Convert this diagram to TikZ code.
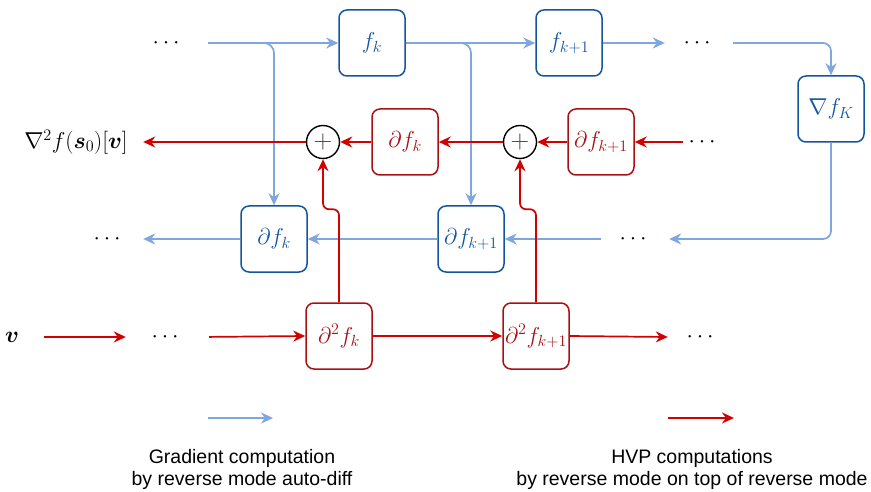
\RequirePackage{fix-cm}
\documentclass[tikz,border=0pt]{standalone}
\usepackage{tikz}
\usetikzlibrary{arrows.meta}
\usepackage{amsmath,amssymb}
\usepackage{bm}
\usepackage{fontspec}
\newfontfamily\legendfont{Liberation Sans}
\definecolor{gradblue}{RGB}{20,85,160}
\definecolor{gradarrow}{RGB}{126,166,224}
\definecolor{hvpred}{RGB}{170,15,20}
\definecolor{hvparrow}{RGB}{210,0,0}
\newcommand{\mathsize}{\fontsize{23}{27}\selectfont}

\begin{document}
\begin{tikzpicture}[x=1pt,y=-1pt,
    bluebox/.style={draw=gradblue,text=gradblue,line width=1.5pt,rounded corners=8pt,minimum width=66pt,minimum height=66pt,inner sep=1pt,font=\mathsize},
    redbox/.style={draw=hvpred,text=hvpred,line width=1.5pt,rounded corners=8pt,minimum width=66pt,minimum height=66pt,inner sep=1pt,font=\mathsize},
    plusnode/.style={circle,draw=black,line width=1.4pt,minimum size=33pt,inner sep=0pt,text=black!75,font=\fontsize{26}{30}\selectfont},
    dotnode/.style={minimum width=68pt,inner sep=0pt,font=\mathsize},
    labelnode/.style={font=\mathsize},
    legendtext/.style={align=center,font=\fontsize{19.5}{22}\legendfont},
    bluearrow/.style={draw=gradarrow,line width=1.7pt,-{Stealth[length=12pt,width=11pt]}},
    redarrow/.style={draw=hvparrow,line width=1.7pt,-{Stealth[length=12pt,width=11pt]}}]
            \useasboundingbox (0,0) rectangle (871,492);

            % gradient row, forward pass
            \node [dotnode] (dotsA) at (168,43) {$\cdots$};
            \node [bluebox] (fk) at (372,43) {$f_k$};
            \node [bluebox] (fk1) at (569,43) {$f_{k+1}$};
            \node [dotnode] (dotsB) at (699,43) {$\cdots$};
            \node [bluebox] (gradK) at (831,109) {$\nabla f_K$};

            % hvp row
            \node [labelnode] (hess) at (76,142) {$\nabla^2 f(\bm{s}_0)[\bm{v}]$};
            \node [plusnode] (plusA) at (323,142) {$+$};
            \node [redbox] (rdfk) at (405,142) {$\partial f_k$};
            \node [plusnode] (plusB) at (520,142) {$+$};
            \node [redbox] (rdfk1) at (601,142) {$\partial f_{k+1}$};
            \node [dotnode] (dotsE) at (704,142) {$\cdots$};

            % gradient row, backward pass
            \node [dotnode] (dotsD) at (109,239) {$\cdots$};
            \node [bluebox] (bdfk) at (274,239) {$\partial f_k$};
            \node [bluebox] (bdfk1) at (471,239) {$\partial f_{k+1}$};
            \node [dotnode] (dotsC) at (635,239) {$\cdots$};

            % second order row
            \node [labelnode] (vin) at (12,337) {$\bm{v}$};
            \node [dotnode] (dotsF) at (167,337) {$\cdots$};
            \node [redbox] (hfk) at (339,336) {$\partial^2 f_k$};
            \node [redbox] (hfk1) at (536,336) {$\partial^2 f_{k+1}$};
            \node [dotnode] (dotsG) at (702,337) {$\cdots$};

            % legend
            \coordinate (gradA) at (208,418);
            \coordinate (gradB) at (273,418);
            \coordinate (hvpA) at (668,418);
            \coordinate (hvpB) at (734,418);
            \node [legendtext] (gradtext) at (242,469) {Gradient computation\\by reverse mode auto-diff};
            \node [legendtext] (hvptext) at (692,469) {HVP computations\\by reverse mode on top of reverse mode};

            \draw [bluearrow, shorten <=6pt] (dotsA.east) -- (fk.west);
            \draw [bluearrow, shorten <=6pt, rounded corners=10pt] (dotsA.east) -| (bdfk.north);
            \draw [bluearrow] (fk.east) -- (fk1.west);
            \draw [bluearrow, rounded corners=10pt] (fk.east) -| (bdfk1.north);
            \draw [bluearrow] (fk1.east) -- (dotsB.west);
            \draw [bluearrow, rounded corners=8pt] (dotsB.east) -| (gradK.north);
            \draw [bluearrow, rounded corners=8pt] (gradK.south) |- (dotsC.east);
            \draw [bluearrow] (dotsC.west) -- (bdfk1.east);
            \draw [bluearrow] (bdfk1.west) -- (bdfk.east);
            \draw [bluearrow] (bdfk.west) -- (dotsD.east);

            \draw [redarrow, shorten <=-13pt] (dotsE.west) -- (rdfk1.east);
            \draw [redarrow] (rdfk1.west) -- (plusB.east);
            \draw [redarrow] (plusB.west) -- (rdfk.east);
            \draw [redarrow] (rdfk.west) -- (plusA.east);
            \draw [redarrow, shorten >=12pt] (plusA.west) -- (hess.east);
            \draw [redarrow, shorten <=22pt, shorten >=7pt] (vin.east) -- (dotsF.west);
            \draw [redarrow, shorten <=8pt] (dotsF.east) -- (hfk.west);
            \draw [redarrow] (hfk.east) -- (hfk1.west);
            \draw [redarrow] (hfk1.east) -- (dotsG.west);
            \draw [redarrow, rounded corners=6pt] (hfk.north) -- ++(0,-93) -| (plusA.south);
            \draw [redarrow, rounded corners=6pt] (hfk1.north) -- ++(0,-93) -| (plusB.south);

            \draw [bluearrow] (gradA) -- (gradB);
            \draw [redarrow] (hvpA) -- (hvpB);
        \end{tikzpicture}
\end{document}
